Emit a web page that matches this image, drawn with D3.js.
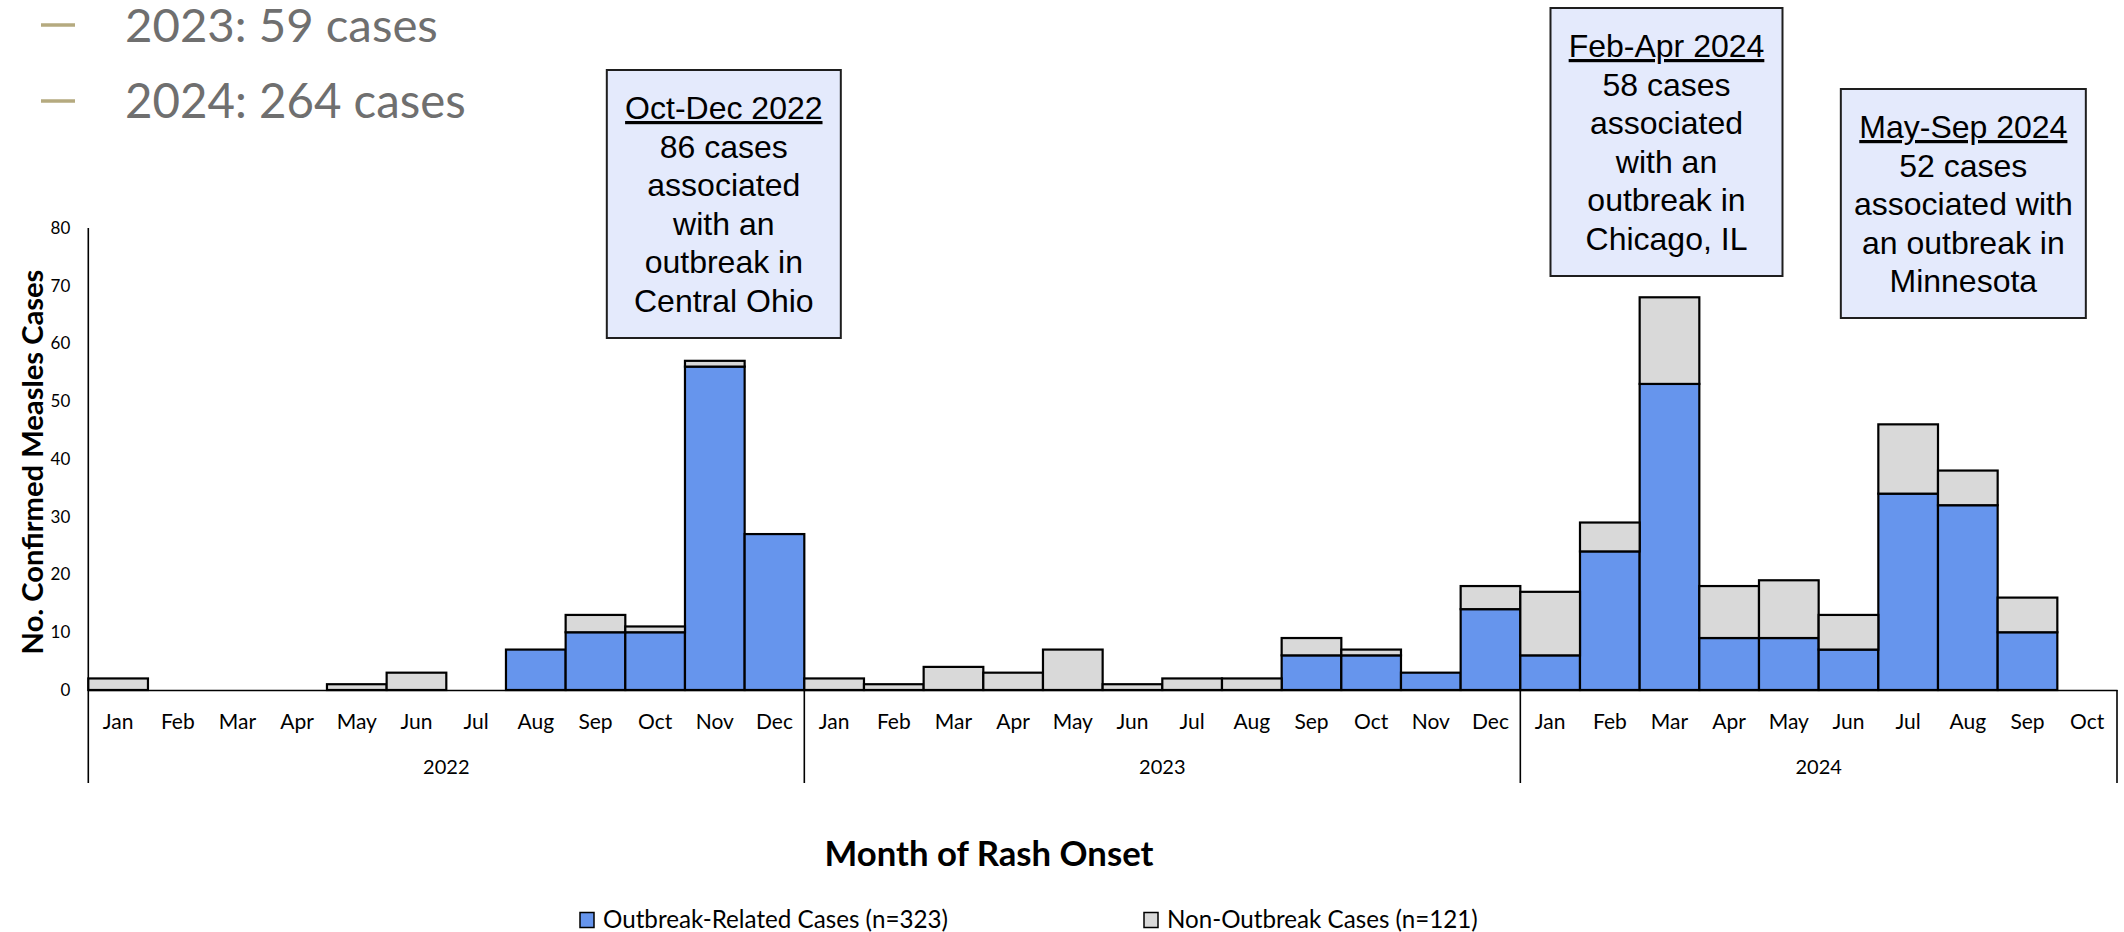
<!DOCTYPE html>
<html>
<head>
<meta charset="utf-8">
<script src="https://cdn.jsdelivr.net/npm/d3@7"></script>
<style>
  html, body { margin: 0; padding: 0; background: #ffffff; }
  svg { display: block; }
</style>
</head>
<body>
<svg id="chart" width="2124" height="932"></svg>
<script>
// ---- data -------------------------------------------------------------
const years = ["2022", "2023", "2024"];
const monthNames = ["Jan", "Feb", "Mar", "Apr", "May", "Jun", "Jul", "Aug", "Sep", "Oct", "Nov", "Dec"];
const monthsPerYear = [12, 12, 10];

// confirmed measles cases by month of rash onset
const outbreakCases = [
  0, 0, 0, 0, 0, 0, 0, 7, 10, 10, 56, 27,
  0, 0, 0, 0, 0, 0, 0, 0, 6, 6, 3, 14,
  6, 24, 53, 9, 9, 7, 34, 32, 10, 0
];
const nonOutbreakCases = [
  2, 0, 0, 0, 1, 3, 0, 0, 3, 1, 1, 0,
  2, 1, 4, 3, 7, 1, 2, 2, 3, 1, 0, 4,
  11, 5, 15, 9, 10, 6, 12, 6, 6, 0
];

const yTicks = [0, 10, 20, 30, 40, 50, 60, 70, 80];
const seriesNames = ["Outbreak-Related Cases (n=323)", "Non-Outbreak Cases (n=121)"];
const yearTotals = ["2023: 59 cases", "2024: 264 cases"];

const noteLines = [
  ["Oct-Dec 2022", "86 cases", "associated", "with an", "outbreak in", "Central Ohio"],
  ["Feb-Apr 2024", "58 cases", "associated", "with an", "outbreak in", "Chicago, IL"],
  ["May-Sep 2024", "52 cases", "associated with", "an outbreak in", "Minnesota"]
];
const noteAnchors = ["2022-Nov", "2024-Mar", "2024-Aug"];

// ---- derived table ----------------------------------------------------
const periods = [];
years.forEach((yr, i) => {
  for (let m = 0; m < monthsPerYear[i]; m++) periods.push({ year: yr, month: monthNames[m], key: yr + "-" + monthNames[m] });
});
const rows = periods.map((p, i) => ({ key: p.key, outbreak: outbreakCases[i], non: nonOutbreakCases[i] }));

// ---- style ------------------------------------------------------------
const BLUE = "#6695ed";
const GREY = "#d9d9d9";
const CAL = "Lato, 'Open Sans', sans-serif";
const ARIAL = "'Liberation Sans', Arial, sans-serif";

const svg = d3.select("#chart");
svg.append("rect").attr("width", 2124).attr("height", 932).attr("fill", "#ffffff");

const x = d3.scaleBand().domain(periods.map(p => p.key)).range([88.3, 2117]).padding(0);
const y = d3.scaleLinear().domain([0, 80]).range([690, 228]);
const catBottom = 783;

function fitWidth(sel, w) {
  const fs = parseFloat(sel.attr("font-size"));
  const len = sel.node().getComputedTextLength();
  sel.attr("font-size", fs * w / len);
  return sel;
}

// ---- year totals (upper left) -----------------------------------------
const totals = svg.append("g");
yearTotals.forEach((t, i) => {
  const base = [42, 118][i];
  totals.append("line")
    .attr("x1", 41).attr("x2", 75)
    .attr("y1", base - 17).attr("y2", base - 17)
    .attr("stroke", "#b5aa7f").attr("stroke-width", 3.5);
  const tx = totals.append("text")
    .attr("x", 125).attr("y", base)
    .attr("font-family", CAL).attr("font-size", 50)
    .attr("fill", "#6f6f6f").text(t);
  fitWidth(tx, [313, 341][i]);
});

// ---- axes -------------------------------------------------------------
const yAxis = svg.append("g")
  .attr("transform", `translate(${x.range()[0]},0)`)
  .call(d3.axisLeft(y).tickValues(yTicks).tickSize(0).tickPadding(18));
yAxis.select(".domain").remove();
yAxis.selectAll("text")
  .attr("font-family", CAL).attr("font-size", 17).attr("fill", "#000");

const xAxis = svg.append("g")
  .attr("transform", `translate(0,${y(0)})`)
  .call(d3.axisBottom(x).tickSize(0).tickPadding(0).tickFormat(k => k.split("-")[1]));
xAxis.select(".domain").attr("stroke", "#000").attr("stroke-width", 1.6);
xAxis.selectAll("text")
  .attr("font-family", CAL).attr("font-size", 21).attr("fill", "#000")
  .attr("dy", null).attr("y", 39);

// vertical axis line runs through the category area
svg.append("line")
  .attr("x1", x.range()[0]).attr("x2", x.range()[0])
  .attr("y1", y(80)).attr("y2", catBottom)
  .attr("stroke", "#000").attr("stroke-width", 1.6);

// year group separators and labels
const yearStarts = years.map(yr => x(periods.find(p => p.year === yr).key));
const yearEdges = yearStarts.concat([x.range()[1]]);
svg.append("g").selectAll("line")
  .data(yearEdges.slice(1))
  .join("line")
  .attr("x1", d => d).attr("x2", d => d)
  .attr("y1", y(0)).attr("y2", catBottom)
  .attr("stroke", "#000").attr("stroke-width", 1.6);

svg.append("g").selectAll("text")
  .data(years)
  .join("text")
  .attr("x", (d, i) => (yearEdges[i] + yearEdges[i + 1]) / 2)
  .attr("y", 774)
  .attr("text-anchor", "middle")
  .attr("font-family", CAL).attr("font-size", 20).attr("fill", "#000")
  .text(d => d);

// ---- stacked bars -----------------------------------------------------
const stack = d3.stack().keys(["outbreak", "non"]);
const layers = stack(rows);
const colors = { outbreak: BLUE, non: GREY };

svg.append("g").selectAll("g")
  .data(layers)
  .join("g")
  .attr("fill", d => colors[d.key])
  .selectAll("rect")
  .data(d => d.filter(s => s[1] - s[0] > 0))
  .join("rect")
  .attr("x", d => x(d.data.key))
  .attr("width", x.bandwidth())
  .attr("y", d => y(d[1]))
  .attr("height", d => y(d[0]) - y(d[1]))
  .attr("stroke", "#000").attr("stroke-width", 2.2);

// ---- axis titles ------------------------------------------------------
const yTitle = svg.append("text")
  .attr("transform", "translate(43,462) rotate(-90)")
  .attr("text-anchor", "middle")
  .attr("font-family", CAL).attr("font-weight", 700).attr("font-size", 30)
  .attr("fill", "#000").text("No. Confirmed Measles Cases");
fitWidth(yTitle, 385);

const xTitle = svg.append("text")
  .attr("x", 989).attr("y", 866)
  .attr("text-anchor", "middle")
  .attr("font-family", CAL).attr("font-weight", 700).attr("font-size", 30)
  .attr("fill", "#000").text("Month of Rash Onset");
fitWidth(xTitle, 329);

// ---- legend -----------------------------------------------------------
const legendX = [580, 1144];
const legendTextW = [345, 311];
const legend = svg.append("g");
seriesNames.forEach((name, i) => {
  legend.append("rect")
    .attr("x", legendX[i]).attr("y", 912.5)
    .attr("width", 14).attr("height", 15)
    .attr("fill", i === 0 ? BLUE : GREY)
    .attr("stroke", "#000").attr("stroke-width", 1.5);
  const t = legend.append("text")
    .attr("x", legendX[i] + 23).attr("y", 928)
    .attr("font-family", CAL).attr("font-size", 22).attr("fill", "#000")
    .text(name);
  fitWidth(t, legendTextW[i]);
});

// ---- annotation boxes -------------------------------------------------
const noteBox = [
  { dx: 9, top: 70, w: 234, h: 268 },
  { dx: -3, top: 8, w: 232, h: 268 },
  { dx: -4.5, top: 89, w: 245, h: 229 }
];
noteLines.forEach((lines, i) => {
  const b = noteBox[i];
  const cx = x(noteAnchors[i]) + x.bandwidth() / 2 + b.dx;
  const g = svg.append("g");
  g.append("rect")
    .attr("x", cx - b.w / 2).attr("y", b.top)
    .attr("width", b.w).attr("height", b.h)
    .attr("fill", "#e4eafc").attr("stroke", "#1e1e1e").attr("stroke-width", 2);
  g.selectAll("text")
    .data(lines)
    .join("text")
    .attr("x", cx)
    .attr("y", (d, j) => b.top + 49 + j * 38.5)
    .attr("text-anchor", "middle")
    .attr("font-family", ARIAL).attr("font-size", 32).attr("fill", "#000")
    .style("text-decoration", (d, j) => j === 0 ? "underline" : null)
    .text(d => d);
});
</script>
</body>
</html>
